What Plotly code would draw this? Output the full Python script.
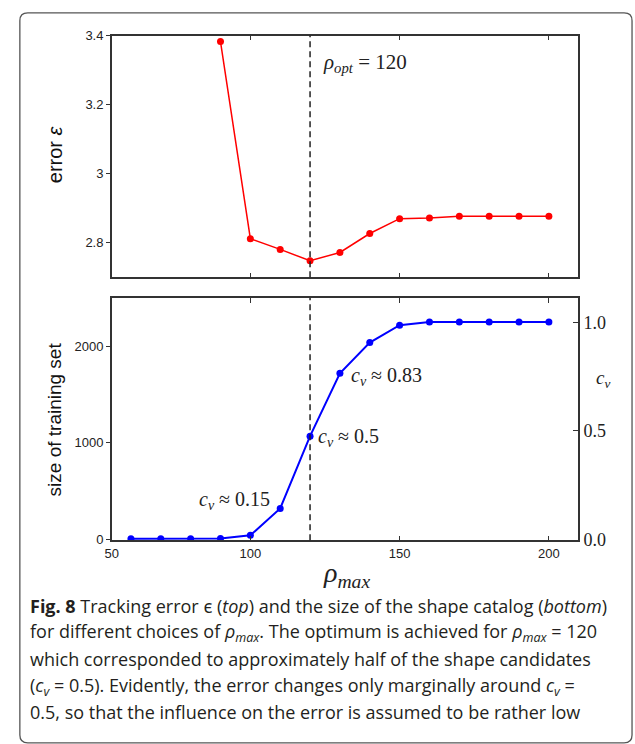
import plotly.graph_objects as go

W, H = 635, 744

# ---- data ----
rho_top = [90, 100, 110, 120, 130, 140, 150, 160, 170, 180, 190, 200]
err_top = [3.383, 2.812, 2.781, 2.748, 2.772, 2.827, 2.870, 2.872, 2.877, 2.877, 2.877, 2.877]

rho_bot = [60, 70, 80, 90, 100, 110, 120, 130, 140, 150, 160, 170, 180, 190, 200]
size_bot = [5, 5, 5, 8, 41, 319, 1068, 1719, 2037, 2217, 2251, 2251, 2251, 2251, 2251]

rho_opt = 120
x_tickvals = [53.6, 100, 150, 200]
x_ticktext = ["50", "100", "150", "200"]
err_ticks = [2.8, 3.0, 3.2, 3.4]
err_ticktext = ["2.8", "3", "3.2", "3.4"]
size_ticks = [0, 1000, 2000]
cv_ticks = [0.0, 0.5, 1.0]
cv_ticktext = ["0.0", "0.5", "1.0"]

def px_x(p):
    return p / W

def px_y(p):
    return 1 - p / H

xdom = [px_x(106), px_x(577.5)]
top_dom = [px_y(276.3), px_y(29.3)]
bot_dom = [px_y(545), px_y(297.3)]
xrange_ = [53.6, 209.8]

axcol = "#333333"
sans = "Liberation Sans, Arial, sans-serif"
serif = "Liberation Serif, Times New Roman, serif"

fig = go.Figure()
fig.add_trace(go.Scatter(x=rho_top, y=err_top, mode="lines+markers",
                         line=dict(color="#ff0000", width=1.5),
                         marker=dict(color="#ff0000", size=7),
                         xaxis="x", yaxis="y", showlegend=False))
fig.add_trace(go.Scatter(x=rho_bot, y=size_bot, mode="lines+markers",
                         line=dict(color="#0000ff", width=2),
                         marker=dict(color="#0000ff", size=7),
                         xaxis="x2", yaxis="y2", showlegend=False))

common_x = dict(domain=xdom, range=xrange_, showgrid=False, zeroline=False,
                showline=True, linecolor=axcol, linewidth=1.5, mirror="ticks",
                ticks="inside", ticklen=5, tickwidth=1.2, tickcolor=axcol,
                tickvals=x_tickvals[1:])

fig.update_layout(
    width=W, height=H,
    margin=dict(l=0, r=0, t=0, b=0),
    paper_bgcolor="white", plot_bgcolor="white",
    xaxis=dict(**common_x, anchor="y", showticklabels=False),
    yaxis=dict(domain=top_dom, range=[2.70, 3.40], showgrid=False, zeroline=False,
               showline=True, linecolor=axcol, linewidth=1.5, mirror=True,
               ticks="outside", ticklen=4, tickwidth=1.2, tickcolor=axcol,
               tickvals=err_ticks, ticktext=err_ticktext,
               tickfont=dict(family=sans, size=13, color="#222"), anchor="x"),
    xaxis2=dict(domain=xdom, range=xrange_, showgrid=False, zeroline=False,
                showline=True, linecolor=axcol, linewidth=1.5, mirror="ticks",
                ticks="inside", ticklen=5, tickwidth=1.2, tickcolor=axcol,
                tickvals=x_tickvals, ticktext=x_ticktext,
                tickfont=dict(family=sans, size=13, color="#222"), anchor="y2"),
    yaxis2=dict(domain=bot_dom, range=[-10, 2500], showgrid=False, zeroline=False,
                showline=True, linecolor=axcol, linewidth=1.5, mirror=False,
                ticks="outside", ticklen=4, tickwidth=1.2, tickcolor=axcol,
                tickvals=size_ticks,
                tickfont=dict(family=sans, size=13, color="#222"), anchor="x2"),
    yaxis3=dict(domain=bot_dom, range=[-0.0045, 1.113], overlaying="y2", side="right",
                anchor="x2", showgrid=False, zeroline=False,
                showline=True, linecolor=axcol, linewidth=1.5,
                ticks="inside", ticklen=5, tickwidth=1.2, tickcolor=axcol,
                tickvals=cv_ticks, ticktext=cv_ticktext,
                tickfont=dict(family=serif, size=18, color="#222")),
)

# dummy trace to activate yaxis3
fig.add_trace(go.Scatter(x=[None], y=[None], xaxis="x2", yaxis="y3", showlegend=False))

# dashed optimum lines
for xr, yr in [("x", "y domain"), ("x2", "y2 domain")]:
    fig.add_shape(type="line", xref=xr, yref=yr, x0=rho_opt, x1=rho_opt, y0=0, y1=1,
                  line=dict(color="#222", width=1.5, dash="6px,4px"))

# frame
r = 8
x0, x1, y0, y1 = 13, 632, 6, 752
def P(x, y):
    return f"{px_x(x):.5f},{px_y(y):.5f}"
path = (f"M {P(x0 + r, y0)} L {P(x1 - r, y0)} Q {P(x1, y0)} {P(x1, y0 + r)} "
        f"L {P(x1, y1 - r)} Q {P(x1, y1)} {P(x1 - r, y1)} L {P(x0 + r, y1)} "
        f"Q {P(x0, y1)} {P(x0, y1 - r)} L {P(x0, y0 + r)} Q {P(x0, y0)} {P(x0 + r, y0)} Z")
fig.add_shape(type="path", xref="paper", yref="paper", path=path,
              line=dict(color="#555555", width=1.3))

def ann(text, x, y, size, family, xanchor="left", angle=0, color="#222"):
    fig.add_annotation(text=text, xref="paper", yref="paper", x=px_x(x), y=px_y(y),
                       xanchor=xanchor, yanchor="middle", showarrow=False,
                       textangle=angle, font=dict(size=size, family=family, color=color))

# in-plot annotations
ann("<i>ρ</i><sub><i>opt</i></sub> = 120", 318, 57, 21, serif)
ann("<i>c</i><sub><i>v</i></sub> ≈ 0.83", 346, 378, 20, serif)
ann("<i>c</i><sub><i>v</i></sub> ≈ 0.5", 312, 440, 20, serif)
ann("<i>c</i><sub><i>v</i></sub> ≈ 0.15", 192, 504, 20, serif)
ann("<i>c</i><sub><i>v</i></sub>", 594, 380, 19, serif)

# axis titles
ann("error <i>ε</i>", 48, 150, 20, sans, xanchor="center", angle=-90, color="#111")
ann("size of training set", 48, 421, 19, sans, xanchor="center", angle=-90, color="#111")
ann("<i>ρ</i><sub><i>max</i></sub>", 343, 580, 28, serif, xanchor="center")

# caption
cap_font = "Open Sans, Noto Sans, sans-serif"
cap = [
    "<b>Fig. 8</b> Tracking error ϵ (<i>top</i>) and the size of the shape catalog (<i>bottom</i>)",
    "for different choices of <i>ρ<sub>max</sub></i>. The optimum is achieved for <i>ρ<sub>max</sub></i> = 120",
    "which corresponded to approximately half of the shape candidates",
    "(<i>c<sub>v</sub></i> = 0.5). Evidently, the error changes only marginally around <i>c<sub>v</sub></i> =",
    "0.5, so that the influence on the error is assumed to be rather low",
]
cap_y = [612, 639, 666, 694, 721]
for t, yy in zip(cap, cap_y):
    ann(t, 21, yy, 18, cap_font, color="#231f20")

fig.write_html("out.html", config={"displayModeBar": False},
               post_script="document.body.style.margin='0';document.body.style.overflow='hidden';")
